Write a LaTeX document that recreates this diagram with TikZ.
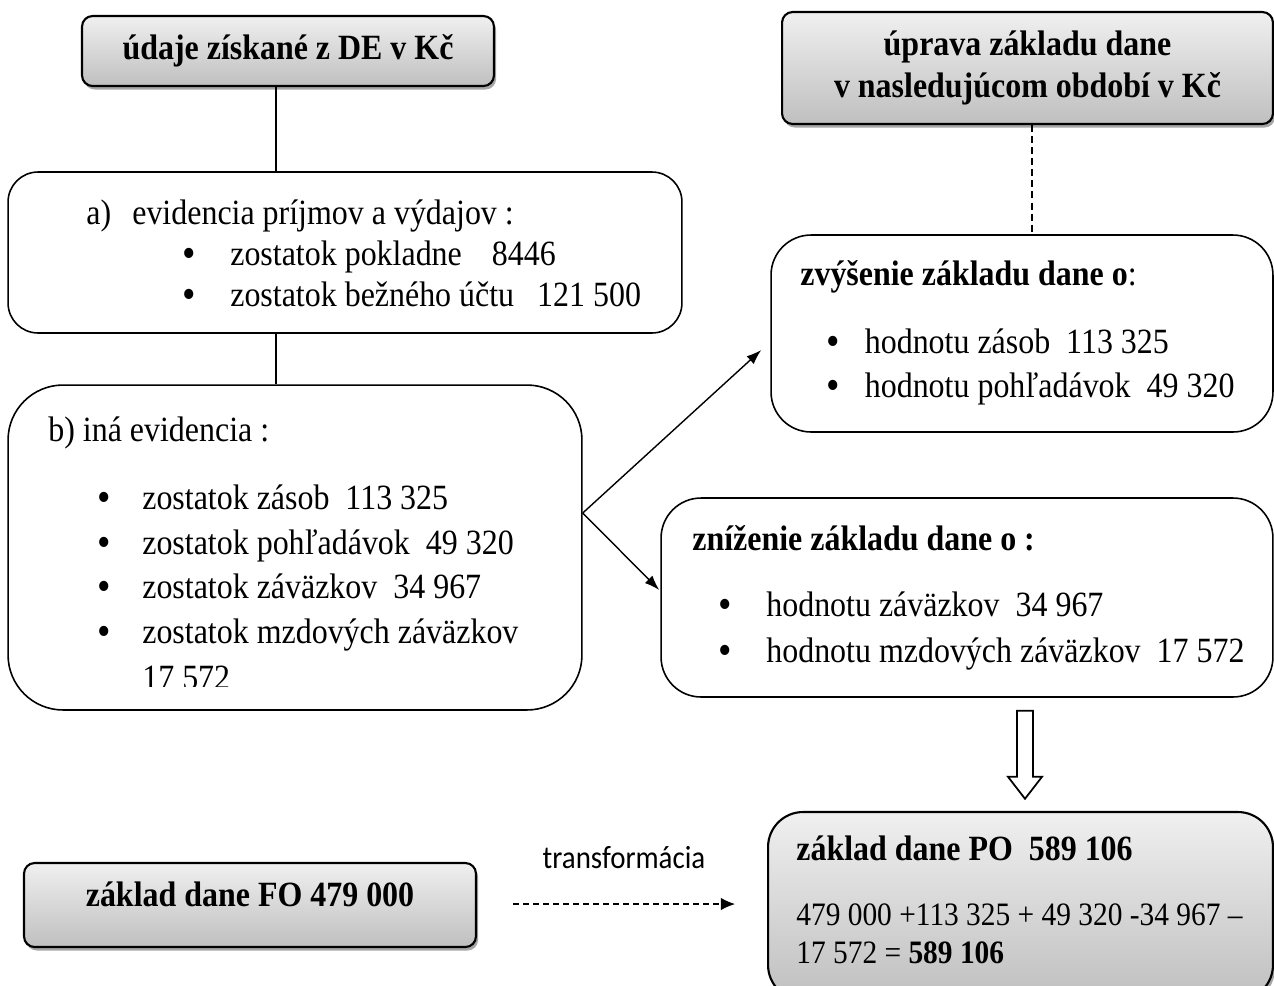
\documentclass[tikz,border=0pt]{standalone}
\usepackage{fontspec}
\setmainfont[FakeStretch=0.9]{Liberation Serif}
\newfontfamily\labelfont[FakeStretch=0.9]{Carlito}
\usetikzlibrary{arrows.meta,shadows,calc}
\newcommand{\bul}[2]{\makebox[#1][l]{\raisebox{-0.06em}{\scalebox{1.2}{\textbullet}}}#2}

\begin{document}
\begin{tikzpicture}[x=0.02cm, y=-0.02cm, font=\fontsize{20.2}{24.4}\selectfont]
    \tikzstyle{titlebox} = [rectangle, rounded corners=6pt, draw=black, line width=1.2pt, top color=gray!12, bottom color=gray!50, drop shadow={shadow xshift=1.2pt, shadow yshift=-2pt, fill=gray!70, opacity=1}, font=\fontsize{20.2}{24.4}\selectfont\bfseries, align=center, inner sep=0pt]
    \tikzstyle{listbox} = [rectangle, draw=black, line width=0.9pt, inner sep=0pt]
    \tikzstyle{txt} = [anchor=base west, inner sep=0pt]
    \tikzstyle{line} = [line width=0.8pt]
    \tikzstyle{arrow} = [line width=0.8pt, -{Latex[length=8.5pt, width=6pt]}]
    \tikzstyle{dasharrow} = [line width=0.6pt, dash pattern=on 3.4pt off 2.3pt, -{Latex[length=8pt, width=7pt]}]

    \useasboundingbox (0,0) rectangle (1274,985);

    % hlavicky
    \node (dataDE) [titlebox, minimum width=8.24cm, minimum height=1.4cm] at (288,51) {údaje získané z DE v Kč};
    \node (adjust) [titlebox, minimum width=9.82cm, minimum height=2.24cm] at (1027.5,68) {úprava základu dane\\v nasledujúcom období v Kč};

    % evidencia
    \node (evidA) [listbox, rounded corners=0.6cm, minimum width=13.48cm, minimum height=3.22cm] at (345,252.5) {};
    \node (evidB) [listbox, rounded corners=1.1cm, minimum width=11.48cm, minimum height=6.5cm] at (295,547.5) {};
    \node (incr) [listbox, rounded corners=0.8cm, minimum width=10.04cm, minimum height=3.94cm] at (1022,333.5) {};
    \node (decr) [listbox, rounded corners=0.8cm, minimum width=12.24cm, minimum height=3.98cm] at (967,597.5) {};

    % zaklady dane
    \node (baseFO) [titlebox, minimum width=9.04cm, minimum height=1.68cm, text height=0.56cm, text depth=0.52cm] at (250,905) {základ dane FO 479 000};
    \node (basePO) [titlebox, rounded corners=0.7cm, minimum width=10.1cm, minimum height=3.76cm] at (1020.5,906) {};

    \node (aHead) [txt] at (86,224) {\makebox[0.92cm][l]{a)}evidencia príjmov a výdajov :};
    \node (aItem1) [txt] at (182,265) {\bul{0.96cm}{zostatok pokladne\hspace{0.6cm}8446}};
    \node (aItem2) [txt] at (182,306) {\bul{0.96cm}{zostatok bežného účtu\hspace{0.46cm}121 500}};

    \node (bHead) [txt] at (48,441) {b) iná evidencia :};
    \node (bItem1) [txt] at (97.5,509) {\bul{0.89cm}{zostatok zásob\hspace{0.32cm}113 325}};
    \node (bItem2) [txt] at (97.5,554) {\bul{0.89cm}{zostatok pohľadávok\hspace{0.32cm}49 320}};
    \node (bItem3) [txt] at (97.5,598) {\bul{0.89cm}{zostatok záväzkov\hspace{0.32cm}34 967}};
    \node (bItem4) [txt] at (97.5,643) {\bul{0.89cm}{zostatok mzdových záväzkov}};
    \begin{scope}
        \clip (0,0) rectangle (1274,686);
        \node (bItem5) [txt] at (142,689) {17 572};
    \end{scope}

    \node (cHead) [txt] at (800,285) {\textbf{zvýšenie základu dane o}:};
    \node (cItem1) [txt] at (826.5,353) {\bul{0.76cm}{hodnotu zásob\hspace{0.32cm}113 325}};
    \node (cItem2) [txt] at (826.5,397) {\bul{0.76cm}{hodnotu pohľadávok\hspace{0.32cm}49 320}};

    \node (dHead) [txt] at (692,550) {\textbf{zníženie základu dane o :}};
    \node (dItem1) [txt] at (718,616) {\bul{0.96cm}{hodnotu záväzkov\hspace{0.32cm}34 967}};
    \node (dItem2) [txt] at (718,662) {\bul{0.96cm}{hodnotu mzdových záväzkov\hspace{0.32cm}17 572}};

    \node (eHead) [txt] at (796,860) {\textbf{základ dane PO\hspace{0.32cm}589 106}};
    \node (eSum1) [txt, font=\fontsize{18.6}{22}\selectfont] at (796,925) {479 000 +113 325 + 49 320 -34 967 –};
    \node (eSum2) [txt, font=\fontsize{18.6}{22}\selectfont] at (796,963) {17 572 = \textbf{589 106}};

    % spojnice
    \coordinate (c1) at ($(dataDE.south)+(-12,0)$);
    \draw [line] (c1) -- (c1 |- evidA.north);
    \draw [line] (c1 |- evidA.south) -- (c1 |- evidB.north);
    \coordinate (c2) at ($(adjust.south)+(4.5,0)$);
    \draw [line, dash pattern=on 4pt off 2.3pt] (c2) -- (c2 |- incr.north);

    \coordinate (split) at ($(evidB.east)+(0,-34.5)$);
    \draw [arrow] (split) -- ($(incr.west)+(-9,16.5)$);
    \draw [arrow] (split) -- ($(decr.west)+(-1,-7.5)$);

    % duta sipka
    \coordinate (hd) at ($(decr.south)+(58,13)$);
    \draw [line width=1pt, fill=white] (hd) ++(-8,0) -- ++(0,66) -- ++(-9,0) -- ++(17,22) -- ++(17,-22) -- ++(-9,0) -- ++(0,-66) -- cycle;

    % transformacia
    \draw [dasharrow] ($(baseFO.east)+(36,-1)$) -- node[midway, above=0.7cm, inner sep=0pt, font=\labelfont\fontsize{18.3}{22}\selectfont] (trLabel) {transformácia} ($(baseFO.east -| basePO.west)+(-32,-1)$);
\end{tikzpicture}
\end{document}
